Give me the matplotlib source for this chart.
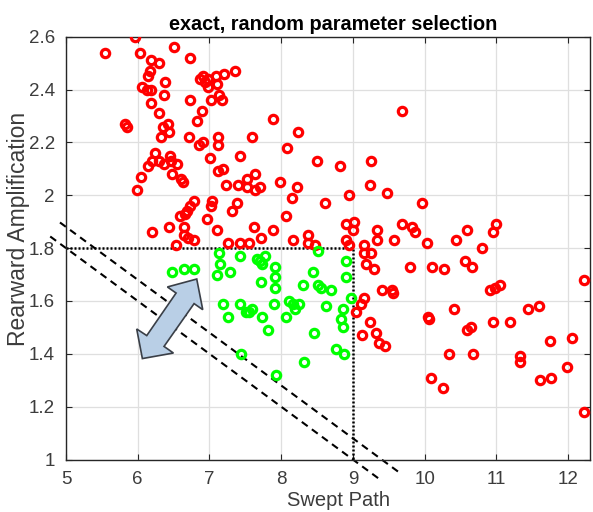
import matplotlib
matplotlib.use("Agg")
import matplotlib.pyplot as plt
from matplotlib.patches import Polygon

plt.rcParams['font.family'] = ['Liberation Sans', 'DejaVu Sans']

title = "exact, random parameter selection"
xlabel = "Swept Path"
ylabel = "Rearward Amplification"
xticks = [5, 6, 7, 8, 9, 10, 11, 12]
yticks = [1.0, 1.2, 1.4, 1.6, 1.8, 2.0, 2.2, 2.4, 2.6]
ytick_labels = ["1", "1.2", "1.4", "1.6", "1.8", "2", "2.2", "2.4", "2.6"]

red_x = [5.55, 5.96, 6.03, 6.51, 6.73, 6.18, 6.30, 6.17, 6.15, 6.38,
         6.06, 6.13, 6.18, 6.36, 6.18, 6.30, 6.73, 6.89, 6.83, 5.82,
         5.85, 6.35, 6.42, 6.43, 6.33, 6.71, 6.86, 6.91, 7.12, 7.12,
         6.87, 6.91, 6.94, 6.98, 7.09, 7.21, 7.35, 7.10, 6.98, 7.14,
         7.18, 7.02, 6.24, 6.20, 6.29, 6.37, 6.45, 6.46, 6.55, 6.14,
         6.05, 5.99, 6.48, 6.60, 6.63, 7.01, 7.43, 7.12, 7.19, 7.23,
         7.40, 7.52, 7.52, 7.64, 7.63, 7.71, 6.78, 6.73, 6.69, 6.66,
         6.59, 7.03, 7.02, 6.96, 7.38, 7.31, 6.43, 6.20, 6.64, 6.64,
         6.70, 6.79, 7.10, 6.53, 7.26, 7.43, 7.55, 7.62, 7.72, 7.88,
         7.59, 8.24, 8.08, 8.50, 8.82, 9.26, 7.99, 8.22, 8.15, 8.61,
         8.94, 9.24, 9.48, 8.07, 7.89, 8.16, 8.38, 8.37, 8.47, 8.91,
         9.01, 9.00, 8.91, 8.94, 9.34, 9.34, 9.15, 9.16, 9.25, 9.68,
         9.97, 9.68, 9.83, 9.87, 9.58, 10.03, 10.44, 10.59, 10.80, 11.00,
         10.96, 9.19, 9.30, 9.79, 10.11, 10.27, 10.56, 10.66, 9.40, 9.54,
         9.56, 9.16, 9.12, 9.05, 9.24, 9.13, 9.32, 9.37, 9.45, 10.05,
         10.06, 10.41, 10.59, 10.65, 10.34, 10.68, 10.91, 10.98, 11.05, 12.22,
         10.95, 11.19, 11.44, 11.59, 11.75, 12.05, 11.33, 11.33, 11.98, 11.61,
         11.77, 10.09, 10.26, 12.22]
red_y = [2.54, 2.60, 2.54, 2.56, 2.52, 2.51, 2.50, 2.47, 2.45, 2.43,
         2.41, 2.40, 2.40, 2.38, 2.35, 2.31, 2.36, 2.32, 2.28, 2.27,
         2.26, 2.26, 2.27, 2.24, 2.22, 2.22, 2.19, 2.20, 2.22, 2.19,
         2.44, 2.45, 2.43, 2.44, 2.45, 2.46, 2.47, 2.42, 2.41, 2.38,
         2.36, 2.36, 2.16, 2.13, 2.13, 2.12, 2.15, 2.13, 2.12, 2.11,
         2.07, 2.02, 2.08, 2.06, 2.05, 2.14, 2.15, 2.09, 2.10, 2.04,
         2.04, 2.06, 2.03, 2.08, 2.02, 2.03, 1.98, 1.96, 1.94, 1.93,
         1.92, 1.98, 1.96, 1.91, 1.97, 1.94, 1.88, 1.86, 1.88, 1.85,
         1.84, 1.83, 1.87, 1.81, 1.82, 1.82, 1.82, 1.88, 1.84, 2.29,
         2.22, 2.24, 2.18, 2.13, 2.11, 2.13, 2.05, 2.03, 1.99, 1.97,
         2.00, 2.04, 2.01, 1.92, 1.87, 1.83, 1.85, 1.82, 1.81, 1.89,
         1.90, 1.87, 1.83, 1.81, 1.87, 1.83, 1.81, 1.78, 1.78, 2.32,
         1.97, 1.89, 1.88, 1.86, 1.83, 1.82, 1.83, 1.87, 1.80, 1.89,
         1.86, 1.74, 1.72, 1.73, 1.73, 1.72, 1.75, 1.73, 1.64, 1.64,
         1.63, 1.61, 1.59, 1.56, 1.52, 1.47, 1.48, 1.44, 1.43, 1.54,
         1.53, 1.57, 1.49, 1.50, 1.40, 1.40, 1.64, 1.65, 1.66, 1.68,
         1.52, 1.52, 1.57, 1.58, 1.45, 1.46, 1.39, 1.37, 1.35, 1.30,
         1.31, 1.31, 1.27, 1.18]

green_x = [6.48, 6.65, 6.78, 7.14, 7.43, 7.15, 7.10, 7.29, 7.66, 7.71,
           7.78, 7.74, 7.92, 7.92, 7.92, 7.72, 8.45, 8.30, 8.52, 8.55,
           8.70, 8.91, 8.91, 8.97, 7.19, 7.26, 7.43, 7.51, 7.55, 7.59,
           7.73, 7.90, 7.82, 8.07, 8.11, 8.17, 8.25, 8.19, 8.63, 8.86,
           8.84, 8.86, 8.46, 8.77, 8.87, 7.44, 8.32, 7.93, 8.51]
green_y = [1.71, 1.72, 1.72, 1.78, 1.77, 1.74, 1.70, 1.71, 1.76, 1.75,
           1.77, 1.74, 1.73, 1.69, 1.65, 1.67, 1.71, 1.66, 1.66, 1.65,
           1.64, 1.75, 1.69, 1.61, 1.59, 1.54, 1.59, 1.56, 1.56, 1.57,
           1.54, 1.59, 1.49, 1.54, 1.60, 1.59, 1.59, 1.57, 1.58, 1.57,
           1.53, 1.50, 1.48, 1.42, 1.40, 1.40, 1.37, 1.32, 1.79]

# limit box (dotted) and boundary lines (dashed)
box_x = [5, 9, 9]
box_y = [1.8, 1.8, 1.0]
lower_line_x = [4.78, 9.405]
lower_line_y = [1.844, 0.919]
upper_line_x = [4.916, 9.637]
upper_line_y = [1.897, 0.953]

# double arrow outline
arrow_x = [6.823, 6.907, 6.786, 6.367, 6.498, 6.065, 5.986, 6.126, 6.535, 6.414]
arrow_y = [1.683, 1.567, 1.590, 1.428, 1.403, 1.382, 1.494, 1.469, 1.630, 1.653]

fig = plt.figure(figsize=(5.93, 5.12), dpi=100)
ax = fig.add_axes([0.1113, 0.1025, 0.9941 - 0.1113, 0.9283 - 0.1025])

ax.set_xlim(5, 12.3)
ax.set_ylim(1, 2.6)
ax.set_xticks(xticks)
ax.set_yticks(yticks)
ax.set_yticklabels(ytick_labels)
ax.grid(True, color='#dfdfdf', linewidth=0.9)
ax.set_axisbelow(True)

ax.plot(lower_line_x, lower_line_y, color='black', lw=1.5, ls=(0, (3.5, 2.5)),
        clip_on=False, zorder=2)
ax.plot(upper_line_x, upper_line_y, color='black', lw=1.5, ls=(0, (3.5, 2.5)),
        clip_on=False, zorder=2)
ax.plot(box_x, box_y, color='black', lw=1.8, ls=(0, (0.8, 0.8)), zorder=2)

ax.plot(red_x, red_y, ls='none', marker='o', markersize=6.0, markeredgewidth=2.3,
        markerfacecolor='none', markeredgecolor='#ff0000', zorder=3)
ax.plot(green_x, green_y, ls='none', marker='o', markersize=6.0, markeredgewidth=2.3,
        markerfacecolor='none', markeredgecolor='#00ff00', zorder=4)

arrow = Polygon(list(zip(arrow_x, arrow_y)), closed=True, facecolor='#b9cfe6',
                edgecolor='#3a3f47', linewidth=1.2, zorder=5)
ax.add_patch(arrow)

for s in ax.spines.values():
    s.set_color('#262626')
    s.set_linewidth(1.0)
ax.tick_params(direction='in', top=True, right=True, length=4, width=0.8,
               colors='#262626', labelsize=13.5)
ax.tick_params(axis='x', pad=8)
ax.tick_params(axis='y', pad=8)
for lab in ax.get_xticklabels() + ax.get_yticklabels():
    lab.set_color('#3c3c3c')

ax.set_xlabel(xlabel, fontsize=14.5, color='#3c3c3c')
ax.xaxis.set_label_coords(0.52, -0.074)
ax.set_ylabel(ylabel, fontsize=16.5, color='#3c3c3c')
ax.yaxis.set_label_coords(-0.069, 0.545)
ax.set_title(title, fontsize=14.3, fontweight='bold', color='black', pad=5, x=0.51)

fig.savefig("out.png", dpi=100)
